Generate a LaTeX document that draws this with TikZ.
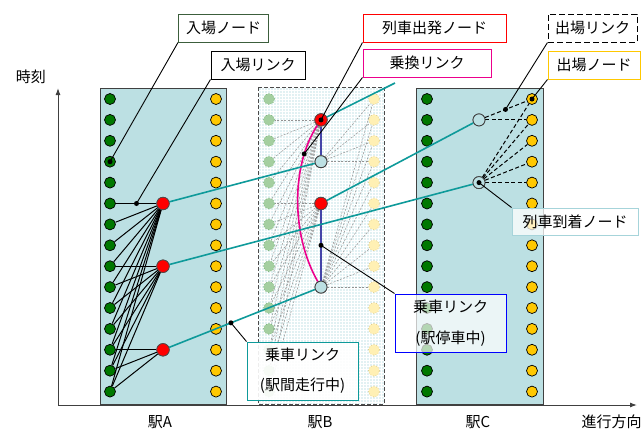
\documentclass[tikz,border=0pt]{standalone}
\usepackage{fontspec}
\setmainfont{Noto Sans CJK JP}
\usetikzlibrary{arrows.meta,patterns,calc}
\definecolor{stfill}{HTML}{BCE0E3}
\definecolor{bfill}{HTML}{E2F1F3}
\definecolor{dgreen}{HTML}{007800}
\definecolor{gold}{HTML}{FFC800}
\definecolor{tealc}{HTML}{0E9A9A}
\definecolor{lblue}{HTML}{BCE0E3}
\definecolor{slate}{HTML}{4444A8}
\definecolor{fgreen}{HTML}{A4CFA0}
\definecolor{fgreenb}{HTML}{7DB47D}
\definecolor{fyel}{HTML}{FFF0B4}
\definecolor{fyelb}{HTML}{E0CC88}
\definecolor{lgreenb}{HTML}{3C5E3C}
\definecolor{arrb}{HTML}{A6D4DA}
\tikzset{
  dotg/.style={circle,draw=black,fill=dgreen,minimum size=11pt,inner sep=0pt,line width=0.7pt},
  doty/.style={circle,draw=black,fill=gold,minimum size=11pt,inner sep=0pt,line width=0.7pt},
  dotr/.style={circle,draw=black!70,fill=red,minimum size=12.5pt,inner sep=0pt,line width=0.7pt},
  dotl/.style={circle,draw=black!75,fill=lblue,minimum size=12pt,inner sep=0pt,line width=0.8pt},
  dotfg/.style={circle,draw=fgreenb,fill=fgreen,dotted,minimum size=11pt,inner sep=0pt,line width=0.7pt},
  dotfy/.style={circle,draw=fyelb,fill=fyel,dotted,minimum size=11pt,inner sep=0pt,line width=0.7pt},
  pin/.style={circle,fill=black,inner sep=0pt,minimum size=5pt},
  lbl/.style={draw,fill=white,minimum height=28pt,inner sep=0pt,line width=1pt},
  lead/.style={draw=black,line width=0.9pt},
  entry/.style={draw=black,line width=1pt},
  ghost/.style={draw=gray!85,line width=0.5pt,dash pattern=on 2pt off 1.5pt},
  exitl/.style={draw=black,line width=1pt,dash pattern=on 4pt off 2.5pt},
  ride/.style={draw=tealc,line width=1.6pt},
  stay/.style={draw=slate,line width=1.6pt},
}
\begin{document}
\begin{tikzpicture}[x=1pt,y=-1pt,font=\fontsize{15}{18}\selectfont]
\useasboundingbox (0,0) rectangle (641,432);
% stations
\draw[fill=stfill,draw=black!75,line width=0.9pt] (100,88) rectangle (226,404);
\draw[fill=stfill,draw=black!75,line width=0.9pt] (416,88) rectangle (543,404);
\fill[bfill] (258,87) rectangle (384,404);
\fill[pattern=grid,pattern color=white] (258,87) rectangle (384,404);
\draw[draw=gray!60!black,line width=0.9pt,dash pattern=on 4pt off 2pt] (258,87) rectangle (384,404);
% axes
\coordinate (O) at (58,405);
\coordinate (Ytop) at (58,88);
\coordinate (Xend) at (637,405);
\draw[draw=gray!50!black,line width=1pt,-{Latex[length=7pt,width=5pt]}] (O) -- (Ytop);
\draw[draw=gray!50!black,line width=1pt,-{Latex[length=7pt,width=5pt]}] (O) -- (Xend);
\node (tlabel) at (31,77) {時刻};
\node (dlabel) [anchor=west] at (578,422) {進行方向};
\node (sA) at (160,422) {駅A};
\node (sB) at (320,422) {駅B};
\node (sC) at (478,422) {駅C};
% dots
\foreach \i in {0,...,14}{
  \node[dotg] (Ag\i) at (110,{99+20.9*\i}) {};
  \node[doty] (Ay\i) at (216,{99+20.9*\i}) {};
  \node[dotfg] (Bg\i) at (269,{99+20.9*\i}) {};
  \node[dotfy] (By\i) at (374,{99+20.9*\i}) {};
  \node[dotg] (Cg\i) at (427,{99+20.9*\i}) {};
  \node[doty] (Cy\i) at (532,{99+20.9*\i}) {};
}
% special nodes
\node[dotr] (Ar5) at (163,{99+20.9*5}) {};
\node[dotr] (Ar8) at (163,{99+20.9*8}) {};
\node[dotr] (Ar12) at (163,{99+20.9*12}) {};
\node[dotr] (Br1) at (321,{99+20.9*1}) {};
\node[dotl] (Bl3) at (321,{99+20.9*3}) {};
\node[dotr] (Br5) at (321,{99+20.9*5}) {};
\node[dotl] (Bl9) at (321,{99+20.9*9}) {};
\node[dotl] (Cl1) at (479,{99+20.9*1}) {};
\node[dotl] (Ca4) at (479,{99+20.9*4}) {};
% entry links A
\foreach \r in {5,...,14} \draw[entry] (Ar5) -- (Ag\r);
\foreach \r in {8,...,14} \draw[entry] (Ar8) -- (Ag\r);
\foreach \r in {12,...,14} \draw[entry] (Ar12) -- (Ag\r);
% ghost links B
\foreach \r in {1,...,14} \draw[ghost] (Br1) -- (Bg\r);
\foreach \r in {5,...,14} \draw[ghost] (Br5) -- (Bg\r);
\foreach \r in {0,...,3} \draw[ghost] (Bl3) -- (By\r);
\foreach \r in {0,...,9} \draw[ghost] (Bl9) -- (By\r);
% exit links C
\foreach \r in {0,1} \draw[exitl] (Cl1) -- (Cy\r);
\foreach \r in {0,...,4} \draw[exitl] (Ca4) -- (Cy\r);
% stay links and transfer
\draw[stay] (Br1) -- (Bl3);
\draw[stay] (Br5) -- (Bl9);
\draw[draw=magenta,line width=1.6pt] (Br1) .. controls (291,165) and (291,235) .. (Bl9) node[pos=0.21,coordinate] (mg) {};
% ride links
\coordinate (Bout) at (395,83);
\draw[ride] (Ar5) -- (Bl3);
\draw[ride] (Ar8) -- (Ca4);
\draw[ride] (Ar12) -- (Bl9);
\draw[ride] (Br1) -- (Bout);
\draw[ride] (Br5) -- (Cl1);
% redraw special nodes on top
\node[dotr] at (Ar5) {};
\node[dotr] at (Ar8) {};
\node[dotr] at (Ar12) {};
\node[dotr] at (Br1) {};
\node[dotl] at (Bl3) {};
\node[dotr] at (Br5) {};
\node[dotl] at (Bl9) {};
\node[dotl] at (Cl1) {};
\node[dotl] at (Ca4) {};
% points for leaders
\coordinate (p2) at ($(Ag5.center)!0.5!(Ar5.center)$);
\coordinate (p5) at ($(Cl1.center)!0.5!(Cy0.center)$);
\coordinate (p8) at ($(Br5.center)!0.5!(Bl9.center)$);
\coordinate (p9) at ($(Ar12.center)!0.43!(Bl9.center)$);
% labels
\node[lbl,draw=lgreenb,minimum width=90pt] (L1) at (223.5,28) {入場ノード};
\node[lbl,draw=black,minimum width=94pt] (L2) at (258,65) {入場リンク};
\node[lbl,draw=red,minimum width=143pt] (L3) at (434.5,28) {列車出発ノード};
\node[lbl,draw=magenta,minimum width=128pt] (L4) at (427,63) {乗換リンク};
\node[lbl,draw=black,dash pattern=on 6pt off 3pt,minimum width=89pt] (L5) at (592.5,28) {出場リンク};
\node[lbl,draw=gold,minimum width=92pt] (L6) at (594,65) {出場ノード};
\node[lbl,draw=arrb,fill opacity=0.75,text opacity=1,minimum width=126pt,minimum height=27pt] (L7) at (575,221.5) {列車到着ノード};
\node[lbl,draw=blue,fill opacity=0.7,text opacity=1,minimum width=111pt,minimum height=58pt,align=center,font=\fontsize{15}{31}\selectfont] (L8) at (450.5,323) {乗車リンク\\(駅停車中)};
\node[lbl,draw=tealc,fill opacity=0.9,text opacity=1,minimum width=111pt,minimum height=58pt,align=center,font=\fontsize{15}{30}\selectfont] (L9) at (302.5,371) {乗車リンク\\(駅間走行中)};
% leaders
\draw[lead] (L1.south west) -- (Ag3.center);
\draw[lead] (L2.south west) -- (p2);
\draw[lead] (L3.south west) -- (Br1.center);
\draw[lead] (L4.south west) -- (mg);
\draw[lead] (L5.south west) -- (p5);
\draw[lead] (L6.south west) -- (Cy0.center);
\draw[lead] (L7.north west) -- (Ca4.center);
\draw[lead] (L8.north west) -- (p8);
\draw[lead] (L9.north west) -- (p9);
\node[pin] at (Ag3.center) {};
\node[pin] at (p2) {};
\node[pin] at (Br1.center) {};
\node[pin] at (mg) {};
\node[pin] at (p5) {};
\node[pin] at (Cy0.center) {};
\node[pin] at (Ca4.center) {};
\node[pin] at (p8) {};
\node[pin] at (p9) {};
\end{tikzpicture}
\end{document}
